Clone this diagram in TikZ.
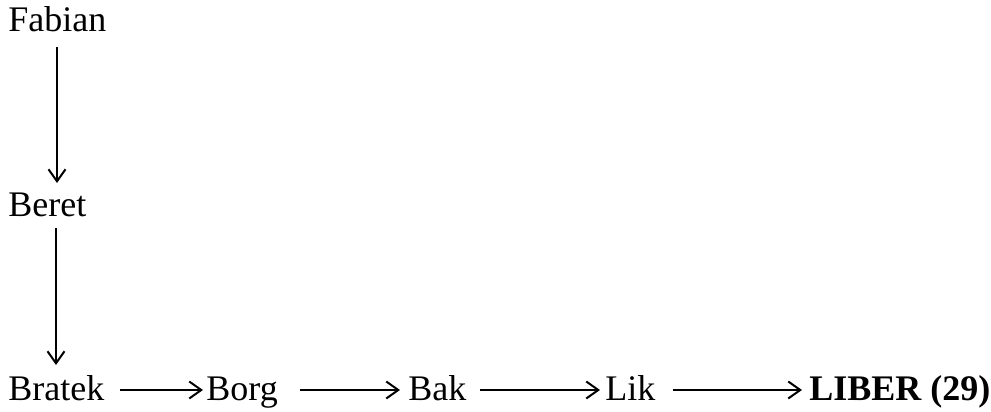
\documentclass[tikz,border=0pt]{standalone}
\usepackage{fontspec}
\setmainfont{Liberation Serif}
\usetikzlibrary{arrows.meta,calc}
\begin{document}
\begin{tikzpicture}[x=0.5pt,y=-0.5pt,
  lbl/.style={anchor=base west,inner sep=0pt,font=\fontsize{18}{20}\selectfont},
  arr/.style={line width=1pt,-{Straight Barb[length=6pt,width=8.5pt,line width=1pt]}}]
\useasboundingbox (0,0) rectangle (991,412);
\node[lbl] (fab) at (8,32) {Fabian};
\node[lbl] (ber) at (8,216) {Beret};
\node[lbl] (bra) at (8,400) {Bratek};
\node[lbl] (bor) at (206,400) {Borg};
\node[lbl] (bak) at (408,400) {Bak};
\node[lbl] (lik) at (605,400) {Lik};
\node[lbl,font=\fontsize{18}{20}\selectfont\bfseries] (lib) at (809,400) {LIBER (29)};
\draw[arr] ($(fab.base west)+(49,15)$) -- ($(ber.base west)+(49,-33)$);
\draw[arr] ($(ber.base west)+(48,12)$) -- ($(bra.base west)+(48,-35)$);
\draw[arr] ($(bra.base west)+(112,-10)$) -- ($(bor.base west)+(-3,-10)$);
\draw[arr] ($(bor.base west)+(94,-10)$) -- ($(bak.base west)+(-8,-10)$);
\draw[arr] ($(bak.base west)+(72,-10)$) -- ($(lik.base west)+(-5,-10)$);
\draw[arr] ($(lik.base west)+(68,-10)$) -- ($(lib.base west)+(-7,-10)$);
\end{tikzpicture}
\end{document}
